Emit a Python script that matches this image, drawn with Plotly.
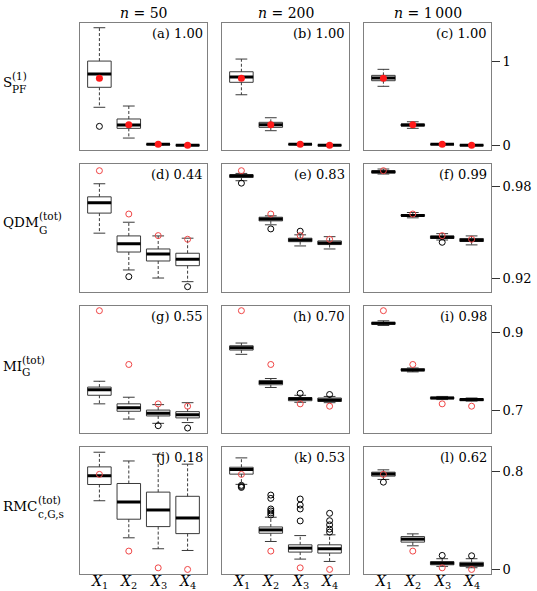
import plotly.graph_objects as go

# ---------------- data ----------------
VARIABLES = ["X1", "X2", "X3", "X4"]
POSITIONS = [1, 2, 3, 4]
TICK_TEXT = ["<i>X</i><sub>1</sub>", "<i>X</i><sub>2</sub>", "<i>X</i><sub>3</sub>", "<i>X</i><sub>4</sub>"]
COLUMN_TITLES = ["<i>n</i> = 50", "<i>n</i> = 200", "<i>n</i> = 1\u2009000"]
PANEL_LETTERS = list("abcdefghijkl")
PANEL_SCORES = ["1.00", "1.00", "1.00", "0.44", "0.83", "0.99",
                "0.55", "0.70", "0.98", "0.18", "0.53", "0.62"]
ROW_MAIN = ["S", "QDM", "MI", "RMC"]
ROW_SUP = ["(1)", "(tot)", "(tot)", "(tot)"]
ROW_SUB = ["PF", "G", "G", "c,G,s"]
Y_TICKS = [[0, 1], [0.92, 0.98], [0.7, 0.9], [0, 0.8]]
Y_TICK_TEXT = [["0", "1"], ["0.92", "0.98"], ["0.7", "0.9"], ["0", "0.8"]]
Y_RANGES = [[-0.056, 1.467], [0.9110, 0.9950], [0.644, 0.969], [-0.035, 0.994]]

# reference (true) values per row
TRUE_VALUES = [
    [0.803, 0.245, 0.012, 0.000],
    [0.9906, 0.9621, 0.9479, 0.9455],
    [0.957, 0.819, 0.718, 0.712],
    [0.774, 0.151, 0.015, 0.002],
]

# box statistics per panel (a..l), per variable X1..X4
WHISKER_LOW = [
    [0.455, 0.087, 0.006, 0.000],
    [0.605, 0.175, 0.007, 0.000],
    [0.706, 0.203, 0.009, 0.000],
    [0.9495, 0.9253, 0.9200, 0.9176],
    [0.9840, 0.9550, 0.9411, 0.9391],
    [0.9884, 0.9596, 0.9450, 0.9418],
    [0.718, 0.679, 0.668, 0.670],
    [0.845, 0.760, 0.722, 0.721],
    [0.919, 0.800, 0.729, 0.725],
    [0.560, 0.259, 0.170, 0.156],
    [0.693, 0.229, 0.086, 0.067],
    [0.733, 0.194, 0.027, 0.016],
]
Q1 = [
    [0.694, 0.203, 0.009, 0.001],
    [0.754, 0.215, 0.010, 0.001],
    [0.773, 0.231, 0.011, 0.001],
    [0.9627, 0.9371, 0.9312, 0.9281],
    [0.9861, 0.9576, 0.9439, 0.9420],
    [0.9890, 0.9607, 0.9460, 0.9440],
    [0.740, 0.699, 0.687, 0.682],
    [0.856, 0.767, 0.726, 0.724],
    [0.922, 0.803, 0.731, 0.726],
    [0.692, 0.410, 0.350, 0.293],
    [0.776, 0.296, 0.143, 0.135],
    [0.760, 0.224, 0.040, 0.027],
]
MEDIAN = [
    [0.853, 0.243, 0.012, 0.002],
    [0.817, 0.246, 0.012, 0.002],
    [0.805, 0.243, 0.012, 0.002],
    [0.9695, 0.9426, 0.9358, 0.9323],
    [0.9873, 0.9589, 0.9450, 0.9431],
    [0.9899, 0.9611, 0.9468, 0.9449],
    [0.754, 0.708, 0.694, 0.690],
    [0.862, 0.773, 0.731, 0.728],
    [0.925, 0.805, 0.733, 0.729],
    [0.762, 0.550, 0.485, 0.420],
    [0.813, 0.323, 0.175, 0.170],
    [0.778, 0.248, 0.054, 0.043],
]
Q3 = [
    [1.008, 0.315, 0.015, 0.004],
    [0.880, 0.275, 0.014, 0.003],
    [0.837, 0.255, 0.013, 0.003],
    [0.9734, 0.9477, 0.9391, 0.9363],
    [0.9879, 0.9600, 0.9462, 0.9444],
    [0.9905, 0.9617, 0.9477, 0.9460],
    [0.761, 0.718, 0.702, 0.698],
    [0.867, 0.778, 0.734, 0.733],
    [0.927, 0.808, 0.735, 0.731],
    [0.835, 0.700, 0.630, 0.596],
    [0.832, 0.347, 0.202, 0.202],
    [0.792, 0.269, 0.065, 0.060],
]
WHISKER_HIGH = [
    [1.407, 0.470, 0.019, 0.007],
    [1.032, 0.330, 0.017, 0.005],
    [0.909, 0.282, 0.015, 0.004],
    [0.9820, 0.9567, 0.9477, 0.9462],
    [0.9888, 0.9609, 0.9484, 0.9472],
    [0.9917, 0.9631, 0.9492, 0.9477],
    [0.776, 0.735, 0.716, 0.721],
    [0.874, 0.783, 0.740, 0.737],
    [0.931, 0.810, 0.737, 0.733],
    [0.954, 0.883, 0.937, 0.857],
    [0.908, 0.426, 0.277, 0.283],
    [0.811, 0.291, 0.089, 0.089],
]
OUTLIERS = [
    [[0.227], [], [], []],
    [[], [], [], []],
    [[], [], [], []],
    [[], [0.9209], [], [0.9143]],
    [[0.9824], [0.9523], [0.9508], []],
    [[], [], [0.9435], []],
    [[], [], [0.662], [0.656]],
    [[], [], [0.745], [0.742]],
    [[], [], [], []],
    [[], [], [], []],
    [[0.685, 0.676, 0.668], [0.606, 0.579, 0.493, 0.477, 0.461, 0.444],
     [0.574, 0.525, 0.493, 0.396], [0.458, 0.398, 0.364, 0.329, 0.305]],
    [[0.711], [], [0.116], [0.113]],
]

# ---------------- layout geometry (pixels) ----------------
W, H = 537, 591
COLS_PX = [(80, 207), (222, 349), (364, 491)]
ROWS_PX = [(22.7, 150), (164, 291.7), (306, 432.7), (447.3, 574)]
FONT = "DejaVu Serif"
BOX_W = 0.8
CAP_HALF = 0.2
LINE_C = "#3a3a3a"
FRAME_C = "#808080"


def px_x(v):
    return v / W


def px_y(v):
    return 1 - v / H


fig = go.Figure()
layout = dict(
    width=W, height=H, margin=dict(l=0, r=0, t=0, b=0, autoexpand=False),
    paper_bgcolor="white", plot_bgcolor="white", showlegend=False,
    font=dict(family=FONT, size=13, color="black"),
)
annotations = []

for r in range(4):
    for c in range(3):
        p = r * 3 + c
        n = p + 1
        xa = "x" if n == 1 else f"x{n}"
        ya = "y" if n == 1 else f"y{n}"

        # boxes (no built-in whiskers)
        fig.add_trace(go.Box(
            x=POSITIONS, q1=Q1[p], median=MEDIAN[p], q3=Q3[p],
            lowerfence=Q1[p], upperfence=Q3[p], width=BOX_W,
            whiskerwidth=0, fillcolor="white",
            line=dict(color=LINE_C, width=1), boxpoints=False,
            hoverinfo="skip", xaxis=xa, yaxis=ya,
        ))

        wx, wy, cx, cy, mx, my, ox, oy = [], [], [], [], [], [], [], []
        for i, pos in enumerate(POSITIONS):
            wx += [pos, pos, None, pos, pos, None]
            wy += [Q3[p][i], WHISKER_HIGH[p][i], None, Q1[p][i], WHISKER_LOW[p][i], None]
            cx += [pos - CAP_HALF, pos + CAP_HALF, None, pos - CAP_HALF, pos + CAP_HALF, None]
            cy += [WHISKER_HIGH[p][i], WHISKER_HIGH[p][i], None,
                   WHISKER_LOW[p][i], WHISKER_LOW[p][i], None]
            mx += [pos - BOX_W / 2, pos + BOX_W / 2, None]
            my += [MEDIAN[p][i], MEDIAN[p][i], None]
            for v in OUTLIERS[p][i]:
                ox.append(pos)
                oy.append(v)

        fig.add_trace(go.Scatter(x=wx, y=wy, mode="lines", hoverinfo="skip",
                                 line=dict(color=LINE_C, width=1, dash="3px,2px"),
                                 xaxis=xa, yaxis=ya))
        fig.add_trace(go.Scatter(x=cx, y=cy, mode="lines", hoverinfo="skip",
                                 line=dict(color=LINE_C, width=1),
                                 xaxis=xa, yaxis=ya))
        fig.add_trace(go.Scatter(x=mx, y=my, mode="lines", hoverinfo="skip",
                                 line=dict(color="black", width=3),
                                 xaxis=xa, yaxis=ya))
        if ox:
            fig.add_trace(go.Scatter(x=ox, y=oy, mode="markers", hoverinfo="skip",
                                     marker=dict(symbol="circle-open", size=6,
                                                 color="black", line=dict(width=1)),
                                     xaxis=xa, yaxis=ya))
        if r == 0:
            red_marker = dict(symbol="circle", size=7, color="#ff1a1a")
        else:
            red_marker = dict(symbol="circle-open", size=6, color="#f04545",
                              line=dict(width=1))
        fig.add_trace(go.Scatter(x=POSITIONS, y=TRUE_VALUES[r], mode="markers",
                                 hoverinfo="skip", marker=red_marker,
                                 xaxis=xa, yaxis=ya))

        x0, x1 = COLS_PX[c]
        y0, y1 = ROWS_PX[r]
        layout["xaxis" if n == 1 else f"xaxis{n}"] = dict(
            domain=[px_x(x0), px_x(x1)], range=[0.34, 4.66], anchor=ya,
            showline=True, mirror=True, linecolor=FRAME_C, linewidth=1,
            showgrid=False, zeroline=False, ticks="", automargin=False,
            showticklabels=False,
        )
        yax = dict(
            domain=[px_y(y1), px_y(y0)], range=Y_RANGES[r], anchor=xa,
            showline=True, mirror=True, linecolor=FRAME_C, linewidth=1,
            showgrid=False, zeroline=False, automargin=False,
        )
        if c == 2:
            yax.update(side="right", ticks="outside", ticklen=8, tickcolor="#333",
                       tickvals=Y_TICKS[r], ticktext=Y_TICK_TEXT[r],
                       showticklabels=True, tickfont=dict(size=13, family=FONT))
        else:
            yax.update(ticks="", showticklabels=False)
        layout["yaxis" if n == 1 else f"yaxis{n}"] = yax

        annotations.append(dict(
            text=f"({PANEL_LETTERS[p]}) {PANEL_SCORES[p]}",
            xref=f"{xa} domain", yref=f"{ya} domain", x=1, y=1,
            xanchor="right", yanchor="top", xshift=-2, yshift=-1,
            showarrow=False, font=dict(size=13, family=FONT),
        ))
        if r == 0:
            annotations.append(dict(
                text=COLUMN_TITLES[c], xref=f"{xa} domain", yref="paper",
                x=0.5, y=px_y(12.5), xanchor="center", yanchor="middle",
                showarrow=False, font=dict(size=14, family=FONT),
            ))
        if r == 3:
            for pos, lab in zip(POSITIONS, TICK_TEXT):
                annotations.append(dict(
                    text=lab, xref=xa, yref="paper", x=pos, y=px_y(571.5),
                    xanchor="center", yanchor="top", showarrow=False,
                    font=dict(size=14, family=FONT), borderpad=0,
                ))

# row labels (main text + stacked super/subscripts)
ROW_LABEL_POS = [  # (main_center_y, main_end_x, sup_y, sub_y)
    (82, 10, 76, 89),
    (222, 37, 216, 230),
    (366, 20, 360, 372),
    (506, 36, 500, 514),
]
for r in range(4):
    my_, ex, sy, by = ROW_LABEL_POS[r]
    annotations.append(dict(text=ROW_MAIN[r], xref="paper", yref="paper",
                            x=px_x(1), y=px_y(my_), xanchor="left", yanchor="middle",
                            showarrow=False, font=dict(size=13.5, family=FONT)))
    annotations.append(dict(text=ROW_SUP[r], xref="paper", yref="paper",
                            x=px_x(ex), y=px_y(sy), xanchor="left", yanchor="middle",
                            showarrow=False, font=dict(size=10.5, family=FONT)))
    annotations.append(dict(text=ROW_SUB[r], xref="paper", yref="paper",
                            x=px_x(ex), y=px_y(by), xanchor="left", yanchor="middle",
                            showarrow=False, font=dict(size=10.5, family=FONT)))

layout["annotations"] = annotations
fig.update_layout(**layout)
fig.write_html("out.html")
